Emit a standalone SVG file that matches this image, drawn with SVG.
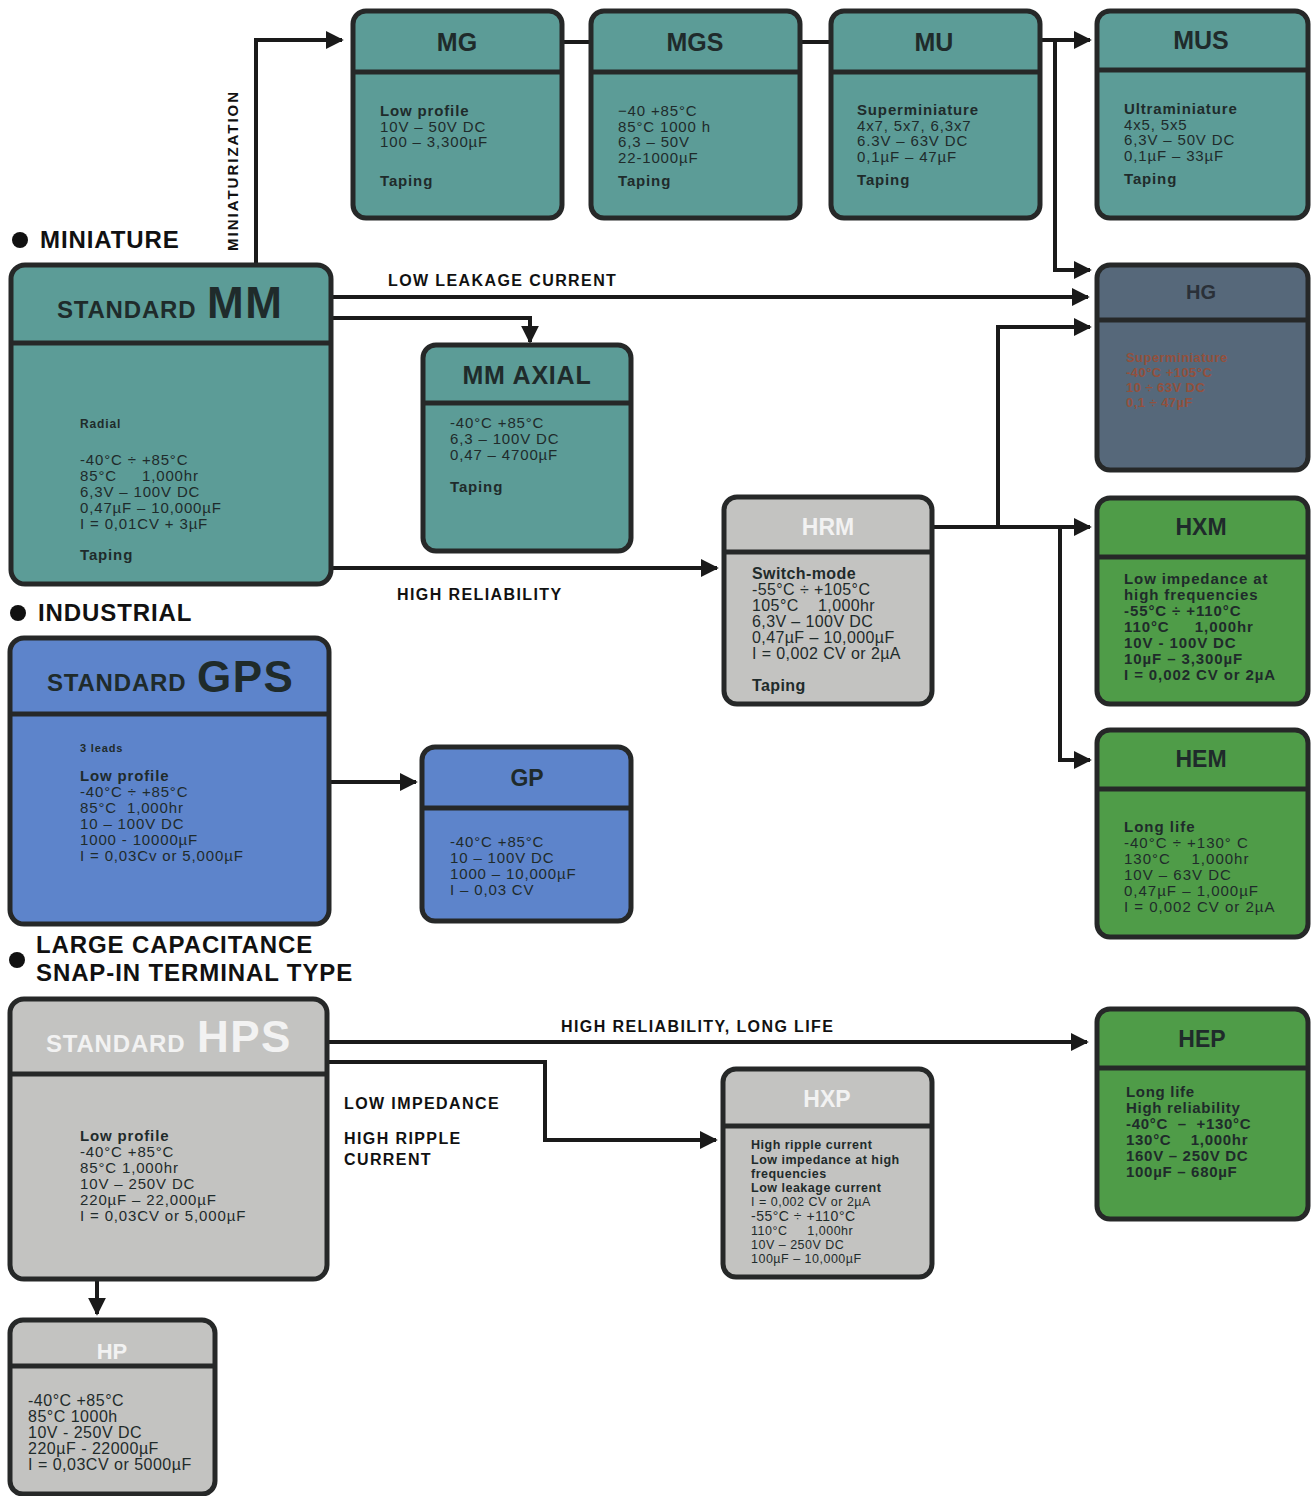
<svg xmlns="http://www.w3.org/2000/svg" width="1313" height="1496" viewBox="0 0 1313 1496">
<style>
.box{stroke:#262828;stroke-width:5}
.div{stroke:#262828;stroke-width:5}
.teal{fill:#5c9c97}
.blue{fill:#5d84cb}
.gray{fill:#c3c3c1}
.green{fill:#4f9c48}
.slate{fill:#56687a}
.hd{font-family:"Liberation Sans",Arial,sans-serif;font-weight:bold;fill:#1f2b2b;text-anchor:middle}
.hw{font-family:"Liberation Sans",Arial,sans-serif;font-weight:bold;fill:#f2f2f2;text-anchor:middle}
.st{font-family:"Liberation Sans",Arial,sans-serif;font-weight:bold;fill:#1f2b2b;font-size:24px;letter-spacing:0.8px}
.big{font-family:"Liberation Sans",Arial,sans-serif;font-weight:bold;fill:#1f2b2b;font-size:44px;letter-spacing:1.5px}
.t{font-family:"Liberation Sans",Arial,sans-serif;fill:#1f2b2b;font-size:15px;letter-spacing:0.85px;white-space:pre}
.b{font-weight:bold}
.lbl{font-family:"Liberation Sans",Arial,sans-serif;font-weight:bold;fill:#111;font-size:16px;letter-spacing:1.4px}
.sec{font-family:"Liberation Sans",Arial,sans-serif;font-weight:bold;fill:#111;font-size:24px;letter-spacing:0.9px}
.ln{fill:none;stroke:#1a1a1a;stroke-width:4}
</style>
<defs>
<marker id="arr" viewBox="0 0 10 10" refX="9" refY="5" markerWidth="18" markerHeight="18" markerUnits="userSpaceOnUse" orient="auto">
<path d="M0,0 L10,5 L0,10 z" fill="#1a1a1a"/>
</marker>
</defs>
<rect width="1313" height="1496" fill="#ffffff"/>

<g id="connectors">
<path class="ln" d="M256,263 V40 H342" marker-end="url(#arr)"/>
<path class="ln" d="M562,42 H590"/>
<path class="ln" d="M800,42 H830"/>
<path class="ln" d="M1040,40 H1090" marker-end="url(#arr)"/>
<path class="ln" d="M1055,40 V270 H1090" marker-end="url(#arr)"/>
<path class="ln" d="M332,297 H1088" marker-end="url(#arr)"/>
<path class="ln" d="M332,318 H530 V342" marker-end="url(#arr)"/>
<path class="ln" d="M332,568 H717" marker-end="url(#arr)"/>
<path class="ln" d="M933,527 H1090" marker-end="url(#arr)"/>
<path class="ln" d="M998,527 V327 H1090" marker-end="url(#arr)"/>
<path class="ln" d="M1060,527 V760 H1090" marker-end="url(#arr)"/>
<path class="ln" d="M330,782 H416" marker-end="url(#arr)"/>
<path class="ln" d="M328,1042 H1087" marker-end="url(#arr)"/>
<path class="ln" d="M328,1062 H545 V1140 H716" marker-end="url(#arr)"/>
<path class="ln" d="M97,1280 V1314" marker-end="url(#arr)"/>
<text class="lbl" transform="translate(238,251) rotate(-90)" style="font-size:15px;letter-spacing:2px">MINIATURIZATION</text>
<text class="lbl" x="388" y="286">LOW LEAKAGE CURRENT</text>
<text class="lbl" x="397" y="600">HIGH RELIABILITY</text>
<text class="lbl" x="561" y="1032">HIGH RELIABILITY, LONG LIFE</text>
<text class="lbl" x="344" y="1109">LOW IMPEDANCE</text>
<text class="lbl" x="344" y="1144">HIGH RIPPLE</text>
<text class="lbl" x="344" y="1165">CURRENT</text>
</g>

<g id="sections">
<circle cx="20" cy="240" r="8" fill="#111"/>
<text class="sec" x="40" y="248">MINIATURE</text>
<circle cx="18" cy="613" r="8" fill="#111"/>
<text class="sec" x="38" y="621">INDUSTRIAL</text>
<circle cx="17" cy="960" r="8" fill="#111"/>
<text class="sec" x="36" y="953">LARGE CAPACITANCE</text>
<text class="sec" x="36" y="981">SNAP-IN TERMINAL TYPE</text>
</g>

<g id="MG">
<rect class="box teal" x="353" y="11" width="209" height="207" rx="13"/>
<line class="div" x1="353" y1="72" x2="562" y2="72"/>
<text class="hd" x="457" y="51" font-size="25">MG</text>
<text class="t" x="380" y="116"><tspan class="b">Low profile</tspan><tspan x="380" dy="15.5">10V – 50V DC</tspan><tspan x="380" dy="15.5">100 – 3,300µF</tspan><tspan x="380" dy="39" class="b">Taping</tspan></text>
</g>
<g id="MGS">
<rect class="box teal" x="591" y="11" width="209" height="207" rx="13"/>
<line class="div" x1="591" y1="72" x2="800" y2="72"/>
<text class="hd" x="695" y="51" font-size="25">MGS</text>
<text class="t" x="618" y="116">−40 +85°C<tspan x="618" dy="15.5">85°C 1000 h</tspan><tspan x="618" dy="15.5">6,3 – 50V</tspan><tspan x="618" dy="15.5">22-1000µF</tspan><tspan x="618" dy="23" class="b">Taping</tspan></text>
</g>
<g id="MU">
<rect class="box teal" x="831" y="11" width="209" height="207" rx="13"/>
<line class="div" x1="831" y1="72" x2="1040" y2="72"/>
<text class="hd" x="934" y="51" font-size="25">MU</text>
<text class="t" x="857" y="115"><tspan class="b">Superminiature</tspan><tspan x="857" dy="15.5">4x7, 5x7, 6,3x7</tspan><tspan x="857" dy="15.5">6.3V – 63V DC</tspan><tspan x="857" dy="15.5">0,1µF – 47µF</tspan><tspan x="857" dy="23" class="b">Taping</tspan></text>
</g>
<g id="MUS">
<rect class="box teal" x="1097" y="11" width="211" height="207" rx="13"/>
<line class="div" x1="1097" y1="70" x2="1308" y2="70"/>
<text class="hd" x="1201" y="49" font-size="25">MUS</text>
<text class="t" x="1124" y="114"><tspan class="b">Ultraminiature</tspan><tspan x="1124" dy="15.5">4x5, 5x5</tspan><tspan x="1124" dy="15.5">6,3V – 50V DC</tspan><tspan x="1124" dy="15.5">0,1µF – 33µF</tspan><tspan x="1124" dy="23" class="b">Taping</tspan></text>
</g>

<g id="STANDARD_MM">
<rect class="box teal" x="11" y="265" width="320" height="319" rx="14"/>
<line class="div" x1="11" y1="343" x2="331" y2="343"/>
<text class="st" x="57" y="318">STANDARD</text>
<text class="big" x="207" y="318">MM</text>
<text class="t" x="80" y="428"><tspan class="b" font-size="12">Radial</tspan><tspan x="80" dy="37">-40°C ÷ +85°C</tspan><tspan x="80" dy="16">85°C     1,000hr</tspan><tspan x="80" dy="16">6,3V – 100V DC</tspan><tspan x="80" dy="16">0,47µF – 10,000µF</tspan><tspan x="80" dy="16">I = 0,01CV + 3µF</tspan><tspan x="80" dy="31" class="b">Taping</tspan></text>
</g>

<g id="MM_AXIAL">
<rect class="box teal" x="423" y="345" width="208" height="206" rx="13"/>
<line class="div" x1="423" y1="403" x2="631" y2="403"/>
<text class="hd" x="527" y="384" font-size="25" letter-spacing="0.8">MM AXIAL</text>
<text class="t" x="450" y="428">-40°C +85°C<tspan x="450" dy="16">6,3 – 100V DC</tspan><tspan x="450" dy="16">0,47 – 4700µF</tspan><tspan x="450" dy="32" class="b">Taping</tspan></text>
</g>

<g id="HG">
<rect class="box slate" x="1097" y="265" width="211" height="205" rx="13"/>
<line class="div" x1="1097" y1="320" x2="1308" y2="320"/>
<text class="hd" x="1201" y="299" font-size="20" style="fill:#2a3038">HG</text>
<text class="t b" x="1126" y="362" style="fill:#93503c;font-size:13px;letter-spacing:0.45px"><tspan>Superminiature</tspan><tspan x="1126" dy="15">-40°C +105°C</tspan><tspan x="1126" dy="15">10 ÷ 63V DC</tspan><tspan x="1126" dy="15">0,1 ÷ 47µF</tspan></text>
</g>

<g id="HRM">
<rect class="box gray" x="724" y="497" width="208" height="207" rx="13"/>
<line class="div" x1="724" y1="552" x2="932" y2="552"/>
<text class="hw" x="828" y="535" font-size="23">HRM</text>
<text class="t" x="752" y="579" style="font-size:16px;letter-spacing:0.4px"><tspan class="b">Switch-mode</tspan><tspan x="752" dy="16">-55°C ÷ +105°C</tspan><tspan x="752" dy="16">105°C    1,000hr</tspan><tspan x="752" dy="16">6,3V – 100V DC</tspan><tspan x="752" dy="16">0,47µF – 10,000µF</tspan><tspan x="752" dy="16">I = 0,002 CV or 2µA</tspan><tspan x="752" dy="32" class="b">Taping</tspan></text>
</g>

<g id="HXM">
<rect class="box green" x="1097" y="498" width="211" height="206" rx="13"/>
<line class="div" x1="1097" y1="557" x2="1308" y2="557"/>
<text class="hd" x="1201" y="535" font-size="23">HXM</text>
<text class="t b" x="1124" y="584" style="font-size:15px;letter-spacing:0.9px">Low impedance at<tspan x="1124" dy="16">high frequencies</tspan><tspan x="1124" dy="16">-55°C ÷ +110°C</tspan><tspan x="1124" dy="16">110°C     1,000hr</tspan><tspan x="1124" dy="16">10V - 100V DC</tspan><tspan x="1124" dy="16">10µF – 3,300µF</tspan><tspan x="1124" dy="16">I = 0,002 CV or 2µA</tspan></text>
</g>

<g id="HEM">
<rect class="box green" x="1097" y="730" width="211" height="207" rx="13"/>
<line class="div" x1="1097" y1="789" x2="1308" y2="789"/>
<text class="hd" x="1201" y="767" font-size="23">HEM</text>
<text class="t" x="1124" y="832" style="font-size:15px;letter-spacing:1px"><tspan class="b">Long life</tspan><tspan x="1124" dy="16">-40°C ÷ +130° C</tspan><tspan x="1124" dy="16">130°C    1,000hr</tspan><tspan x="1124" dy="16">10V – 63V DC</tspan><tspan x="1124" dy="16">0,47µF – 1,000µF</tspan><tspan x="1124" dy="16">I = 0,002 CV or 2µA</tspan></text>
</g>

<g id="STANDARD_GPS">
<rect class="box blue" x="10" y="638" width="319" height="286" rx="14"/>
<line class="div" x1="10" y1="714" x2="329" y2="714"/>
<text class="st" x="47" y="691">STANDARD</text>
<text class="big" x="197" y="692">GPS</text>
<text class="t" x="80" y="752"><tspan class="b" font-size="11">3 leads</tspan><tspan x="80" dy="29" class="b">Low profile</tspan><tspan x="80" dy="16">-40°C ÷ +85°C</tspan><tspan x="80" dy="16">85°C  1,000hr</tspan><tspan x="80" dy="16">10 – 100V DC</tspan><tspan x="80" dy="16">1000 - 10000µF</tspan><tspan x="80" dy="16">I = 0,03Cv or 5,000µF</tspan></text>
</g>

<g id="GP">
<rect class="box blue" x="422" y="747" width="209" height="174" rx="13"/>
<line class="div" x1="422" y1="808" x2="631" y2="808"/>
<text class="hd" x="527" y="786" font-size="23">GP</text>
<text class="t" x="450" y="847">-40°C +85°C<tspan x="450" dy="16">10 – 100V DC</tspan><tspan x="450" dy="16">1000 – 10,000µF</tspan><tspan x="450" dy="16">I – 0,03 CV</tspan></text>
</g>

<g id="STANDARD_HPS">
<rect class="box gray" x="10" y="999" width="317" height="280" rx="14"/>
<line class="div" x1="10" y1="1074" x2="327" y2="1074"/>
<text class="st" x="46" y="1052" style="fill:#f2f2f2">STANDARD</text>
<text class="big" x="197" y="1052" style="fill:#f2f2f2">HPS</text>
<text class="t" x="80" y="1141"><tspan class="b">Low profile</tspan><tspan x="80" dy="16">-40°C +85°C</tspan><tspan x="80" dy="16">85°C 1,000hr</tspan><tspan x="80" dy="16">10V – 250V DC</tspan><tspan x="80" dy="16">220µF – 22,000µF</tspan><tspan x="80" dy="16">I = 0,03CV or 5,000µF</tspan></text>
</g>

<g id="HXP">
<rect class="box gray" x="723" y="1069" width="209" height="208" rx="13"/>
<line class="div" x1="723" y1="1126" x2="932" y2="1126"/>
<text class="hw" x="827" y="1107" font-size="23">HXP</text>
<text class="t" x="751" y="1149" style="font-size:12.5px;letter-spacing:0.5px"><tspan class="b">High ripple current</tspan><tspan x="751" dy="14.5" class="b">Low impedance at high</tspan><tspan x="751" dy="14.5" class="b">frequencies</tspan><tspan x="751" dy="14" class="b">Low leakage current</tspan><tspan x="751" dy="14">I = 0,002 CV or 2µA</tspan><tspan x="751" dy="14.5" font-size="14">-55°C ÷ +110°C</tspan><tspan x="751" dy="14.5">110°C     1,000hr</tspan><tspan x="751" dy="14">10V – 250V DC</tspan><tspan x="751" dy="14">100µF – 10,000µF</tspan></text>
</g>

<g id="HEP">
<rect class="box green" x="1097" y="1009" width="211" height="210" rx="13"/>
<line class="div" x1="1097" y1="1068" x2="1308" y2="1068"/>
<text class="hd" x="1202" y="1047" font-size="23">HEP</text>
<text class="t b" x="1126" y="1097" style="font-size:15px;letter-spacing:0.7px">Long life<tspan x="1126" dy="16">High reliability</tspan><tspan x="1126" dy="16">-40°C  –  +130°C</tspan><tspan x="1126" dy="16">130°C    1,000hr</tspan><tspan x="1126" dy="16">160V – 250V DC</tspan><tspan x="1126" dy="16">100µF – 680µF</tspan></text>
</g>

<g id="HP">
<rect class="box gray" x="10" y="1320" width="205" height="174" rx="13"/>
<line class="div" x1="10" y1="1366" x2="215" y2="1366"/>
<text class="hw" x="112" y="1359" font-size="22">HP</text>
<text class="t" x="28" y="1406" style="font-size:16px;letter-spacing:0.5px">-40°C +85°C<tspan x="28" dy="16">85°C 1000h</tspan><tspan x="28" dy="16">10V - 250V DC</tspan><tspan x="28" dy="16">220µF - 22000µF</tspan><tspan x="28" dy="16">I = 0,03CV or 5000µF</tspan></text>
</g>
</svg>
